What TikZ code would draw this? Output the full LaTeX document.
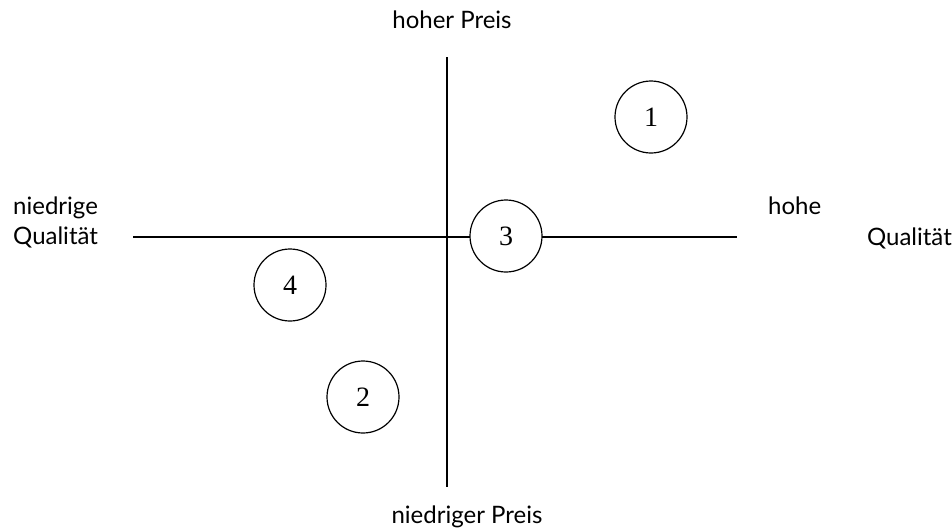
\documentclass[tikz,border=0pt]{standalone}
\usepackage{fontspec}
\setmainfont{Lato}
\newfontfamily\numfont{Liberation Serif}
\begin{document}
\begin{tikzpicture}[x=1pt,y=-1pt,
  axis/.style={line width=1.3pt},
  lbl/.style={inner sep=0pt,font=\fontsize{24}{28}\selectfont},
  num/.style={circle,draw,line width=1.2pt,fill=white,minimum size=72pt,inner sep=0pt,font=\numfont\fontsize{28}{30}\selectfont}]
\useasboundingbox (0,0) rectangle (952,528);
\coordinate (vt) at (447,57);
\coordinate (vb) at (447,487);
\coordinate (hl) at (133,237);
\coordinate (hr) at (737,237);
\draw[axis] (vt) -- (vb);
\draw[axis] (hl) -- (hr);
\node[num] (c1) at (651,117) {1};
\node[num] (c3) at (506,236) {3};
\node[num] (c4) at (290,285) {4};
\node[num] (c2) at (363,397) {2};
\node[lbl,anchor=base] (hp) at (452,28) {hoher Preis};
\node[lbl,anchor=base] (np) at (467,523) {niedriger Preis};
\node[lbl,anchor=base west] (nq1) at (13,214) {niedrige};
\node[lbl,anchor=base west] (nq2) at (13,244) {Qualität};
\node[lbl,anchor=base west] (hq1) at (768,214) {hohe};
\node[lbl,anchor=base east] (hq2) at (952,245) {Qualität};
\end{tikzpicture}
\end{document}
